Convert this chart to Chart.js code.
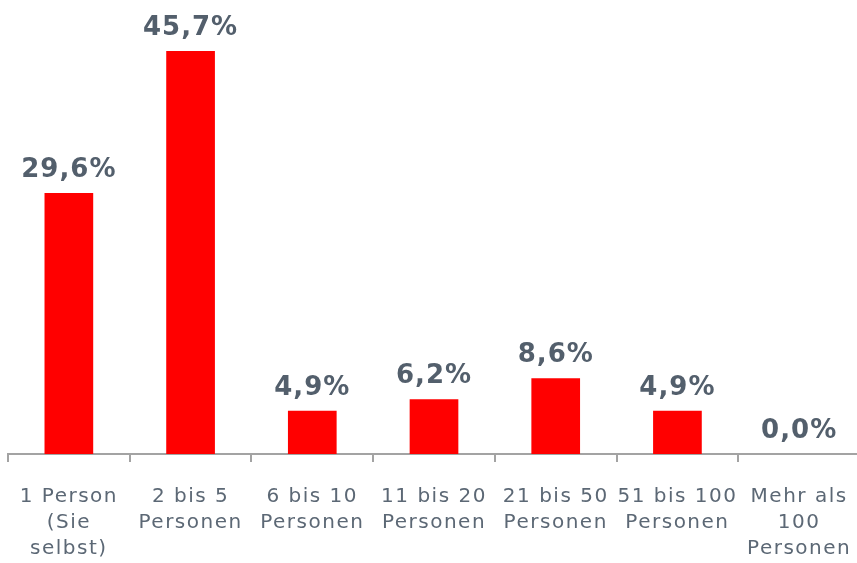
<!DOCTYPE html>
<html>
<head>
<meta charset="utf-8">
<script src="https://cdn.jsdelivr.net/npm/chart.js@4"></script>
<style>
    html, body { margin: 0; padding: 0; background: #fff; overflow: hidden; }
    #wrap { width: 860px; height: 563px; }
</style>
</head>
<body>
<div id="wrap"><canvas id="sizeChart"></canvas></div>
<script>
// Data
const categories = [
    ['1 Person', '(Sie', 'selbst)'],
    ['2 bis 5', 'Personen'],
    ['6 bis 10', 'Personen'],
    ['11 bis 20', 'Personen'],
    ['21 bis 50', 'Personen'],
    ['51 bis 100', 'Personen'],
    ['Mehr als', '100', 'Personen']
];
const shares = [29.6, 45.7, 4.9, 6.2, 8.6, 4.9, 0.0];

const axisGray = '#a3a3a3';
const labelGray = '#535f6c';

// value labels above the bars
const valueLabels = {
    id: 'valueLabels',
    afterDatasetsDraw(chart) {
        const ctx = chart.ctx;
        const meta = chart.getDatasetMeta(0);
        ctx.save();
        ctx.letterSpacing = '1px';
        ctx.font = 'bold 26px "DejaVu Sans"';
        ctx.fillStyle = labelGray;
        ctx.textAlign = 'center';
        ctx.textBaseline = 'alphabetic';
        meta.data.forEach((bar, i) => {
            const txt = shares[i].toFixed(1).replace('.', ',') + '%';
            ctx.fillText(txt, bar.x, bar.y - 16);
        });
        ctx.restore();
    }
};

// slight letter spacing for the axis text
const spacing = {
    id: 'spacing',
    beforeDraw(chart) { chart.ctx.letterSpacing = '1.5px'; }
};

new Chart(document.getElementById('sizeChart'), {
    type: 'bar',
    data: {
        labels: categories,
        datasets: [{
            data: shares,
            backgroundColor: '#ff0000',
            borderWidth: 0,
            barPercentage: 0.8,
            categoryPercentage: 0.5
        }]
    },
    options: {
        responsive: true,
        maintainAspectRatio: false,
        animation: false,
        layout: { padding: { top: 13, left: 8, right: 0, bottom: 0 } },
        plugins: { legend: { display: false }, tooltip: { enabled: false } },
        scales: {
            y: { display: false, min: 0, max: 50 },
            x: {
                afterFit(scale) {
                    // labels fit inside their slots, no extra side padding
                    scale.paddingLeft = 0;
                    scale.paddingRight = 0;
                    scale.height = 109;
                },
                grid: { offset: true, drawOnChartArea: false, drawTicks: true, tickLength: 8, color: axisGray, lineWidth: 2 },
                border: { display: true, color: axisGray, width: 2 },
                ticks: {
                    color: '#5c6875',
                    font: { family: 'DejaVu Sans', size: 20, lineHeight: 1.3 },
                    padding: 22,
                    maxRotation: 0,
                    autoSkip: false
                }
            }
        }
    },
    plugins: [valueLabels, spacing]
});
</script>
</body>
</html>
